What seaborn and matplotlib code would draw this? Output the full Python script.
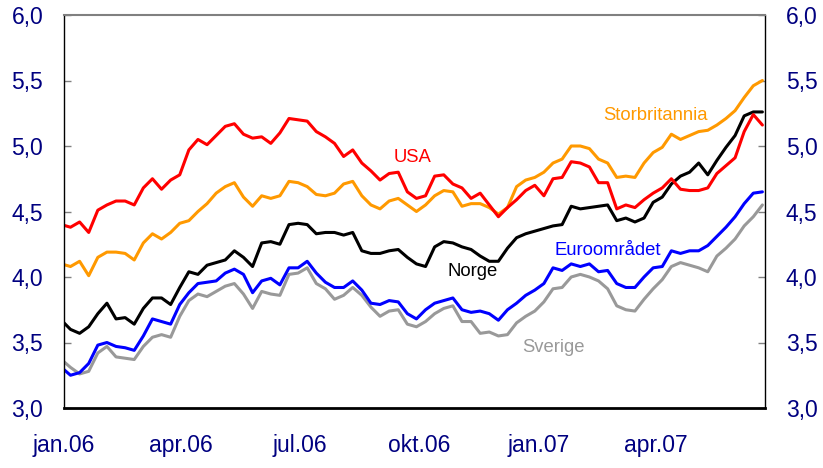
import pandas as pd
import matplotlib
matplotlib.use('Agg')
import matplotlib.pyplot as plt
import seaborn as sns

# weekly readings (Fridays), first point just before the axis start
dates = pd.date_range('2005-12-30', periods=78, freq='7D')

usa = [4.40, 4.38, 4.42, 4.34, 4.51, 4.55, 4.58, 4.58, 4.55, 4.68,
       4.75, 4.67, 4.74, 4.78, 4.97, 5.05, 5.01, 5.08, 5.15, 5.17,
       5.09, 5.06, 5.07, 5.02, 5.10, 5.21, 5.20, 5.19, 5.11, 5.07,
       5.02, 4.92, 4.97, 4.87, 4.81, 4.74, 4.79, 4.80, 4.65, 4.60,
       4.62, 4.77, 4.78, 4.71, 4.68, 4.60, 4.64, 4.55, 4.46, 4.53,
       4.59, 4.66, 4.70, 4.62, 4.75, 4.76, 4.88, 4.87, 4.84, 4.72,
       4.72, 4.52, 4.55, 4.53, 4.59, 4.64, 4.68, 4.75, 4.67, 4.66,
       4.66, 4.68, 4.79, 4.85, 4.91, 5.11, 5.24, 5.16]

storbritannia = [4.10, 4.08, 4.12, 4.01, 4.15, 4.19, 4.19, 4.18, 4.13, 4.26,
                 4.33, 4.29, 4.34, 4.41, 4.43, 4.50, 4.56, 4.64, 4.69, 4.72,
                 4.61, 4.54, 4.62, 4.60, 4.62, 4.73, 4.72, 4.69, 4.63, 4.62,
                 4.64, 4.71, 4.73, 4.62, 4.55, 4.52, 4.58, 4.60, 4.55, 4.50,
                 4.55, 4.62, 4.66, 4.65, 4.54, 4.56, 4.56, 4.53, 4.48, 4.53,
                 4.69, 4.74, 4.76, 4.80, 4.87, 4.90, 5.00, 5.00, 4.98, 4.90,
                 4.87, 4.76, 4.77, 4.76, 4.87, 4.95, 4.99, 5.09, 5.05, 5.08,
                 5.11, 5.12, 5.16, 5.21, 5.27, 5.37, 5.46, 5.50]

norge = [3.67, 3.60, 3.57, 3.62, 3.72, 3.80, 3.68, 3.69, 3.64, 3.76,
         3.84, 3.84, 3.79, 3.92, 4.04, 4.02, 4.09, 4.11, 4.13, 4.20,
         4.15, 4.08, 4.26, 4.27, 4.25, 4.40, 4.41, 4.40, 4.33, 4.34,
         4.34, 4.32, 4.34, 4.20, 4.18, 4.18, 4.20, 4.21, 4.15, 4.10,
         4.08, 4.23, 4.27, 4.26, 4.23, 4.21, 4.16, 4.12, 4.12, 4.22,
         4.30, 4.33, 4.35, 4.37, 4.39, 4.40, 4.54, 4.52, 4.53, 4.54,
         4.55, 4.43, 4.45, 4.42, 4.45, 4.57, 4.61, 4.71, 4.77, 4.80,
         4.87, 4.78, 4.89, 4.99, 5.08, 5.23, 5.26, 5.26]

euroomradet = [3.31, 3.25, 3.27, 3.34, 3.48, 3.50, 3.47, 3.46, 3.44, 3.55,
               3.68, 3.66, 3.64, 3.79, 3.88, 3.95, 3.96, 3.97, 4.03, 4.06,
               4.02, 3.88, 3.97, 3.99, 3.94, 4.07, 4.07, 4.12, 4.03, 3.96,
               3.92, 3.92, 3.97, 3.90, 3.80, 3.79, 3.82, 3.81, 3.72, 3.68,
               3.75, 3.80, 3.82, 3.84, 3.75, 3.73, 3.74, 3.72, 3.67, 3.75,
               3.80, 3.86, 3.90, 3.95, 4.07, 4.05, 4.10, 4.08, 4.10, 4.04,
               4.05, 3.95, 3.92, 3.92, 4.00, 4.07, 4.08, 4.20, 4.18, 4.20,
               4.20, 4.24, 4.31, 4.38, 4.46, 4.56, 4.64, 4.65]

sverige = [3.37, 3.31, 3.26, 3.28, 3.42, 3.47, 3.39, 3.38, 3.37, 3.47,
           3.54, 3.56, 3.54, 3.70, 3.82, 3.87, 3.85, 3.89, 3.93, 3.95,
           3.87, 3.76, 3.89, 3.87, 3.86, 4.02, 4.03, 4.07, 3.95, 3.91,
           3.83, 3.86, 3.92, 3.86, 3.77, 3.70, 3.74, 3.75, 3.64, 3.62,
           3.66, 3.72, 3.76, 3.78, 3.66, 3.66, 3.57, 3.58, 3.55, 3.56,
           3.65, 3.70, 3.74, 3.81, 3.91, 3.92, 4.00, 4.02, 4.00, 3.97,
           3.91, 3.78, 3.75, 3.74, 3.83, 3.91, 3.98, 4.08, 4.11, 4.09,
           4.07, 4.04, 4.16, 4.22, 4.29, 4.39, 4.46, 4.55]

tick_dates = pd.to_datetime(['2006-01-01', '2006-04-01', '2006-07-01',
                             '2006-10-01', '2007-01-01', '2007-04-01'])
tick_labels = ['jan.06', 'apr.06', 'jul.06', 'okt.06', 'jan.07', 'apr.07']
y_ticks = [3.0, 3.5, 4.0, 4.5, 5.0, 5.5, 6.0]

colors = {'Sverige': '#999999', 'Euroområdet': '#0000ff', 'Norge': '#000000',
          'Storbritannia': '#ff9900', 'USA': '#ff0000'}

df = pd.DataFrame({'dato': dates, 'USA': usa, 'Storbritannia': storbritannia,
                   'Norge': norge, 'Euroområdet': euroomradet, 'Sverige': sverige})
df = df.melt(id_vars='dato', var_name='serie', value_name='rente')

sns.set_style('white')
plt.rcParams['font.family'] = ['Liberation Sans', 'DejaVu Sans']

navy = '#000080'
fig = plt.figure(figsize=(8.23, 4.68), dpi=100)
ax = fig.add_axes([64 / 823, 60 / 468, 701 / 823, 393 / 468])

sns.lineplot(data=df, x='dato', y='rente', hue='serie',
             hue_order=['Sverige', 'Euroområdet', 'Norge', 'Storbritannia', 'USA'],
             palette=colors, linewidth=2.2, legend=False, ax=ax)

ax.set_xlim(pd.Timestamp('2006-01-01'), pd.Timestamp('2007-06-24'))
ax.set_ylim(3.0, 6.0)
ax.set_xlabel('')
ax.set_ylabel('')

ax.set_xticks(tick_dates)
ax.set_xticklabels(tick_labels)
ax.set_yticks(y_ticks)
ax.set_yticklabels([f'{v:.1f}'.replace('.', ',') for v in y_ticks])

ax.tick_params(axis='x', direction='in', length=7, width=1, color='black',
               pad=18.5, labelsize=16.5, labelcolor=navy)
ax.tick_params(axis='y', direction='in', length=5, width=1, color='#808080',
               left=True, right=True, labelleft=True, labelright=True,
               pad=15, labelsize=16.5, labelcolor=navy)

for side in ['left', 'right']:
    ax.spines[side].set_color('black')
    ax.spines[side].set_linewidth(1)
ax.spines['bottom'].set_color('black')
ax.spines['bottom'].set_linewidth(2)
ax.spines['top'].set_color('#808080')
ax.spines['top'].set_linewidth(1.5)

lbl = dict(fontsize=13.3, ha='center', va='center')
ax.text(pd.Timestamp('2006-09-26'), 4.91, 'USA', color='#ff0000', **lbl)
ax.text(pd.Timestamp('2007-04-01'), 5.23, 'Storbritannia', color='#ff9900', **lbl)
ax.text(pd.Timestamp('2006-11-11'), 4.04, 'Norge', color='black', **lbl)
ax.text(pd.Timestamp('2007-02-23'), 4.20, 'Euroområdet', color='#0000ff', **lbl)
ax.text(pd.Timestamp('2007-01-12'), 3.46, 'Sverige', color='#999999', **lbl)

fig.savefig('out.png', dpi=100)
